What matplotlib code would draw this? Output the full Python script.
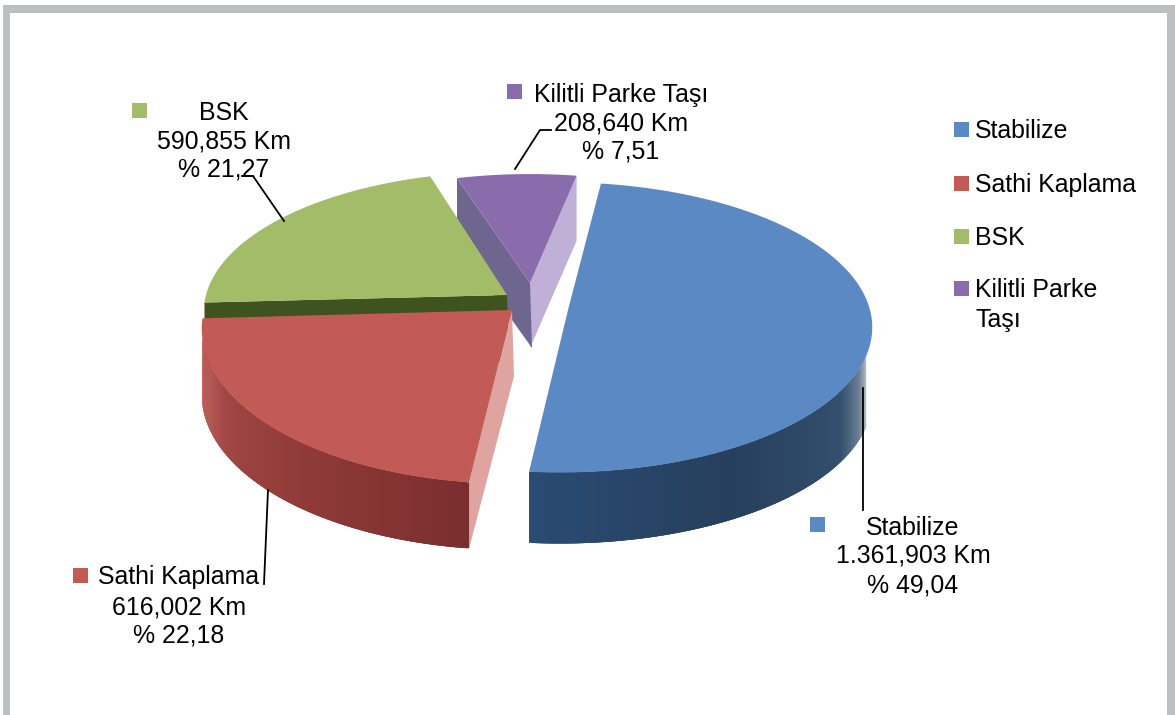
import numpy as np
import matplotlib
matplotlib.use("Agg")
import matplotlib.pyplot as plt
from matplotlib.patches import Polygon, Rectangle

categories = ["Stabilize", "Sathi Kaplama", "BSK", "Kilitli Parke Taşı"]
lengths = ["1.361,903", "616,002", "590,855", "208,640"]
percents = [49.04, 22.18, 21.27, 7.51]
legend_lines = ["Stabilize", "Sathi Kaplama", "BSK", "Kilitli Parke\nTaşı"]

colors = ["#5A89C4", "#C25A55", "#A2BC68", "#8A6BAC"]
center = [(560, 310), (512, 310), (507, 295), (530, 283)]
apex = [(568, 310), (512, 310), (507, 295), (530, 283)]
radius_x = [310, 308, 301, 286]
radius_y = [143, 153, 138, 122]
depth = [71, 66, 66, 65]
gap_after = [2, 0, 0, 0]
start_angle = 8.5
persp = 0.12

# rim shading: angle stops and the colours at them, None = no visible rim
rim_range = [(108, None), (None, 260), None, None]
rim_stops = [
    [(108, "#B4BBC2"), (113, "#6E8296"), (122, "#34506E"), (150, "#263F5C"), (187, "#2A4C74")],
    [(187, "#7A2E2E"), (215, "#8E3A38"), (240, "#A04644"), (250, "#B25A56"), (260, "#C25A55")],
    None,
    None,
]
start_wall = ["", "#DFA3A0", "#3F5320", "#6F6690"]
end_wall = ["", "", "", "#C0B0D8"]


def project(i, theta):
    t = np.radians(theta)
    x, y = np.sin(t), -np.cos(t)
    s = 1 / (1 - persp * y)
    return center[i][0] + x * radius_x[i] * s, center[i][1] + y * radius_y[i] * s


def hex_rgb(c):
    return np.array(matplotlib.colors.to_rgb(c))


def draw_slice(ax, i, a0, a1):
    cx, cy = apex[i]
    d = depth[i]
    z = i * -10 + 40
    # cut faces
    if end_wall[i]:
        x, y = project(i, a1)
        ax.add_patch(Polygon([(cx, cy), (x, y), (x, y + d), (cx, cy + d)], fc=end_wall[i], ec="none", zorder=z))
    if start_wall[i]:
        x, y = project(i, a0)
        ax.add_patch(Polygon([(cx, cy), (x, y), (x, y + d), (cx + 2, cy + d)], fc=start_wall[i], ec="none", zorder=z))
    # outer rim, overlapping strips so no seams show
    if rim_stops[i] is not None:
        lo = rim_range[i][0] if rim_range[i][0] is not None else a0
        hi = rim_range[i][1] if rim_range[i][1] is not None else a1
        th = np.linspace(lo, hi, 200)
        stop_a = [s[0] for s in rim_stops[i]]
        stop_c = np.array([hex_rgb(s[1]) for s in rim_stops[i]])
        for k in range(len(th) - 3):
            sub = th[k:k + 4]
            c = [np.interp(sub[0], stop_a, stop_c[:, n]) for n in range(3)]
            xs, ys = project(i, sub)
            pts = list(zip(xs, ys)) + list(zip(xs[::-1], ys[::-1] + d))
            ax.add_patch(Polygon(pts, fc=c, ec="none", zorder=z + 1))
    # top face
    th = np.linspace(a0, a1, 120)
    xs, ys = project(i, th)
    pts = [(cx, cy)] + list(zip(xs, ys))
    ax.add_patch(Polygon(pts, fc=colors[i], ec="none", zorder=z + 2))


def plot_pie():
    plt.rcParams["font.family"] = ["Liberation Sans", "DejaVu Sans"]
    fig = plt.figure(figsize=(11.75, 7.15), dpi=100)
    ax = fig.add_axes([0, 0, 1, 1])
    ax.set_xlim(0, 1175)
    ax.set_ylim(715, 0)
    ax.axis("off")

    # frame
    grey = "#BDBFC1"
    ax.add_patch(Rectangle((3, 5), 1172, 8, fc=grey, ec="none"))
    ax.add_patch(Rectangle((3, 5), 7, 710, fc=grey, ec="none"))
    ax.add_patch(Rectangle((1167, 5), 8, 710, fc=grey, ec="none"))

    a = start_angle
    for i, p in enumerate(percents):
        span = p * 3.6
        draw_slice(ax, i, a, a + span)
        a += span + gap_after[i]

    # leader lines
    leaders = [
        ([863, 863], [388, 510]),
        ([268, 264], [490, 584]),
        ([284, 253, 242], [221, 176, 176]),
        ([515, 540, 551], [169, 130, 130]),
    ]
    for lx, ly in leaders:
        ax.plot(lx, ly, color="black", lw=1.3, zorder=60)

    fs = 17.9
    base = 9  # from cap middle to baseline
    # data labels: name line, km line, percent line
    label_x = [913, 179, 224, 621]
    name_y = [526, 575, 111, 93]
    km_y = [554, 605, 140, 122]
    pct_y = [583, 633, 168, 150]
    swatch = [(817.5, 524.5), (80.5, 575), (139, 110), (514.5, 91)]
    for i, cat in enumerate(categories):
        x = label_x[i]
        ax.text(x, name_y[i] + base, cat, ha="center", va="baseline", fontsize=fs, zorder=70)
        ax.text(x, km_y[i] + base, lengths[i] + " Km", ha="center", va="baseline", fontsize=fs, zorder=70)
        pct = f"% {percents[i]:.2f}".replace(".", ",")
        ax.text(x, pct_y[i] + base, pct, ha="center", va="baseline", fontsize=fs, zorder=70)
        sx, sy = swatch[i]
        ax.add_patch(Rectangle((sx - 7.5, sy - 7.5), 15, 15, fc=colors[i], ec="none", zorder=70))

    # legend
    leg_y = [129, 183, 236, 288]
    for i, line in enumerate(legend_lines):
        ax.add_patch(Rectangle((954, leg_y[i] - 7), 15, 15, fc=colors[i], ec="none"))
        for j, part in enumerate(line.split("\n")):
            ax.text(975, leg_y[i] + base + j * 30, part, ha="left", va="baseline", fontsize=fs)

    fig.savefig("out.png", dpi=100)


if __name__ == "__main__":
    plot_pie()
